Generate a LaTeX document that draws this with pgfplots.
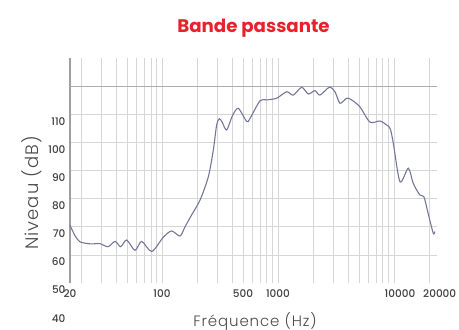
\documentclass[border=0pt]{standalone}
\usepackage{fontspec}
\setmainfont{Poppins}
\newfontfamily\lightfont{Poppins}[UprightFont=*-Light, LetterSpace=6]
\newfontfamily\numfont{Poppins}[UprightFont=*-Medium]
\usepackage{pgfplots}
\pgfplotsset{compat=1.18}
\definecolor{titlered}{HTML}{E8212B}
\definecolor{curve}{HTML}{76769A}
\definecolor{txt}{HTML}{4A4A4A}
\definecolor{gridc}{HTML}{D6D6D6}

\begin{document}
\begin{tikzpicture}
\useasboundingbox (-70pt,-47pt) rectangle (389pt,283pt);
\begin{axis}[
    at={(0,0)}, anchor=south west,
    scale only axis,
    width=367pt, height=225pt,
    xmode=log,
    xmin=16.1, xmax=23500,
    ymin=50, ymax=130,
    clip=false,
    separate axis lines,
    axis x line*=bottom, axis y line*=left,
    x axis line style={draw=none},
    y axis line style={draw=gray!75, line width=1.3pt, -},
    major tick length=0pt, minor tick length=0pt,
    xtick={10,100,1000,10000},
    xticklabels={},
    minor xtick={20,30,40,50,60,70,80,90,200,300,400,500,600,700,800,900,
                 2000,3000,4000,5000,6000,7000,8000,9000,20000},
    extra x ticks={16.1,100,500,1000,11270},
    extra x tick labels={20,100,500,1000,10000},
    extra x tick style={grid=none, xticklabel style={yshift=-3pt}},
    ytick={60,70,80,90,100,110,120},
    yticklabels={60,70,80,90,100,110,{}},
    extra y ticks={50},
    extra y tick labels={50},
    extra y tick style={grid=none},
    yticklabel style={yshift=-7pt, xshift=-1pt},
    xmajorgrids, xminorgrids, ymajorgrids,
    major grid style={gridc, line width=0.6pt},
    minor grid style={gridc, line width=0.5pt},
    tick label style={font=\numfont\fontsize{10.5}{12}\selectfont, text=txt!85!black},
    /pgf/number format/assume math mode=true,
    xlabel={Fréquence (Hz)},
    ylabel={Niveau (dB)},
    label style={text=txt},
    xlabel style={font=\lightfont\fontsize{15}{17}\selectfont,
        at={(axis description cs:0.504,-0.169)}, anchor=center},
    ylabel style={font=\lightfont\fontsize{18}{20}\selectfont,
        at={(axis description cs:-0.104,0.40)}, anchor=center},
    title={Bande passante},
    title style={at={(axis description cs:0.5,1.085)}, anchor=base,
        font=\fontsize{18.2}{20}\selectfont\bfseries, text=titlered},
]
\addplot[gray!65, line width=0.7pt, forget plot] coordinates {(16.1,120) (23500,120)};
\addplot[curve, line width=1.1pt, smooth, tension=0.45] coordinates {
    (16.1,70.5) (17.8,66.8) (19.7,64.6) (24.3,63.9) (29.1,64.0) (34.3,62.9)
    (39.4,64.8) (44.0,62.9) (49.6,65.3) (58.5,61.6) (66.8,64.8) (81.6,61.2)
    (102.7,66.3) (121,68.5) (143,66.7) (158,70.0) (180,74.2) (213,79.5)
    (251,87.8) (277,97.3) (296,106.2) (312,108.4) (330,107.2) (361,104.4)
    (405,109.5) (455,112.1) (538,107.4) (574,108.5) (700,114.8) (799,115.1)
    (974,115.7) (1188,118.0) (1355,116.8) (1600,119.6) (1826,117.2)
    (2084,118.4) (2300,116.8) (2770,119.6) (3100,118.0) (3424,113.9)
    (3910,115.7) (4313,115.1) (5093,112.6) (6210,107.2) (7570,107.6)
    (8650,106.2) (9300,104.8) (9870,99.7) (11270,86.0) (13300,90.8)
    (14670,85.4) (16700,81.3) (18100,80.7) (19700,74.8) (21800,67.7)
    (22500,68.3)
};
\node[anchor=east, font=\numfont\fontsize{10.5}{12}\selectfont, text=txt!85!black,
      inner sep=0.333em] at (axis cs:16.1,40) [xshift=-1pt, yshift=-7pt] {40};
\node[anchor=north, font=\numfont\fontsize{10.5}{12}\selectfont, text=txt!85!black,
      inner sep=0.333em] at (axis cs:24800,50) [yshift=-3pt] {20000};
\end{axis}
\end{tikzpicture}
\end{document}
